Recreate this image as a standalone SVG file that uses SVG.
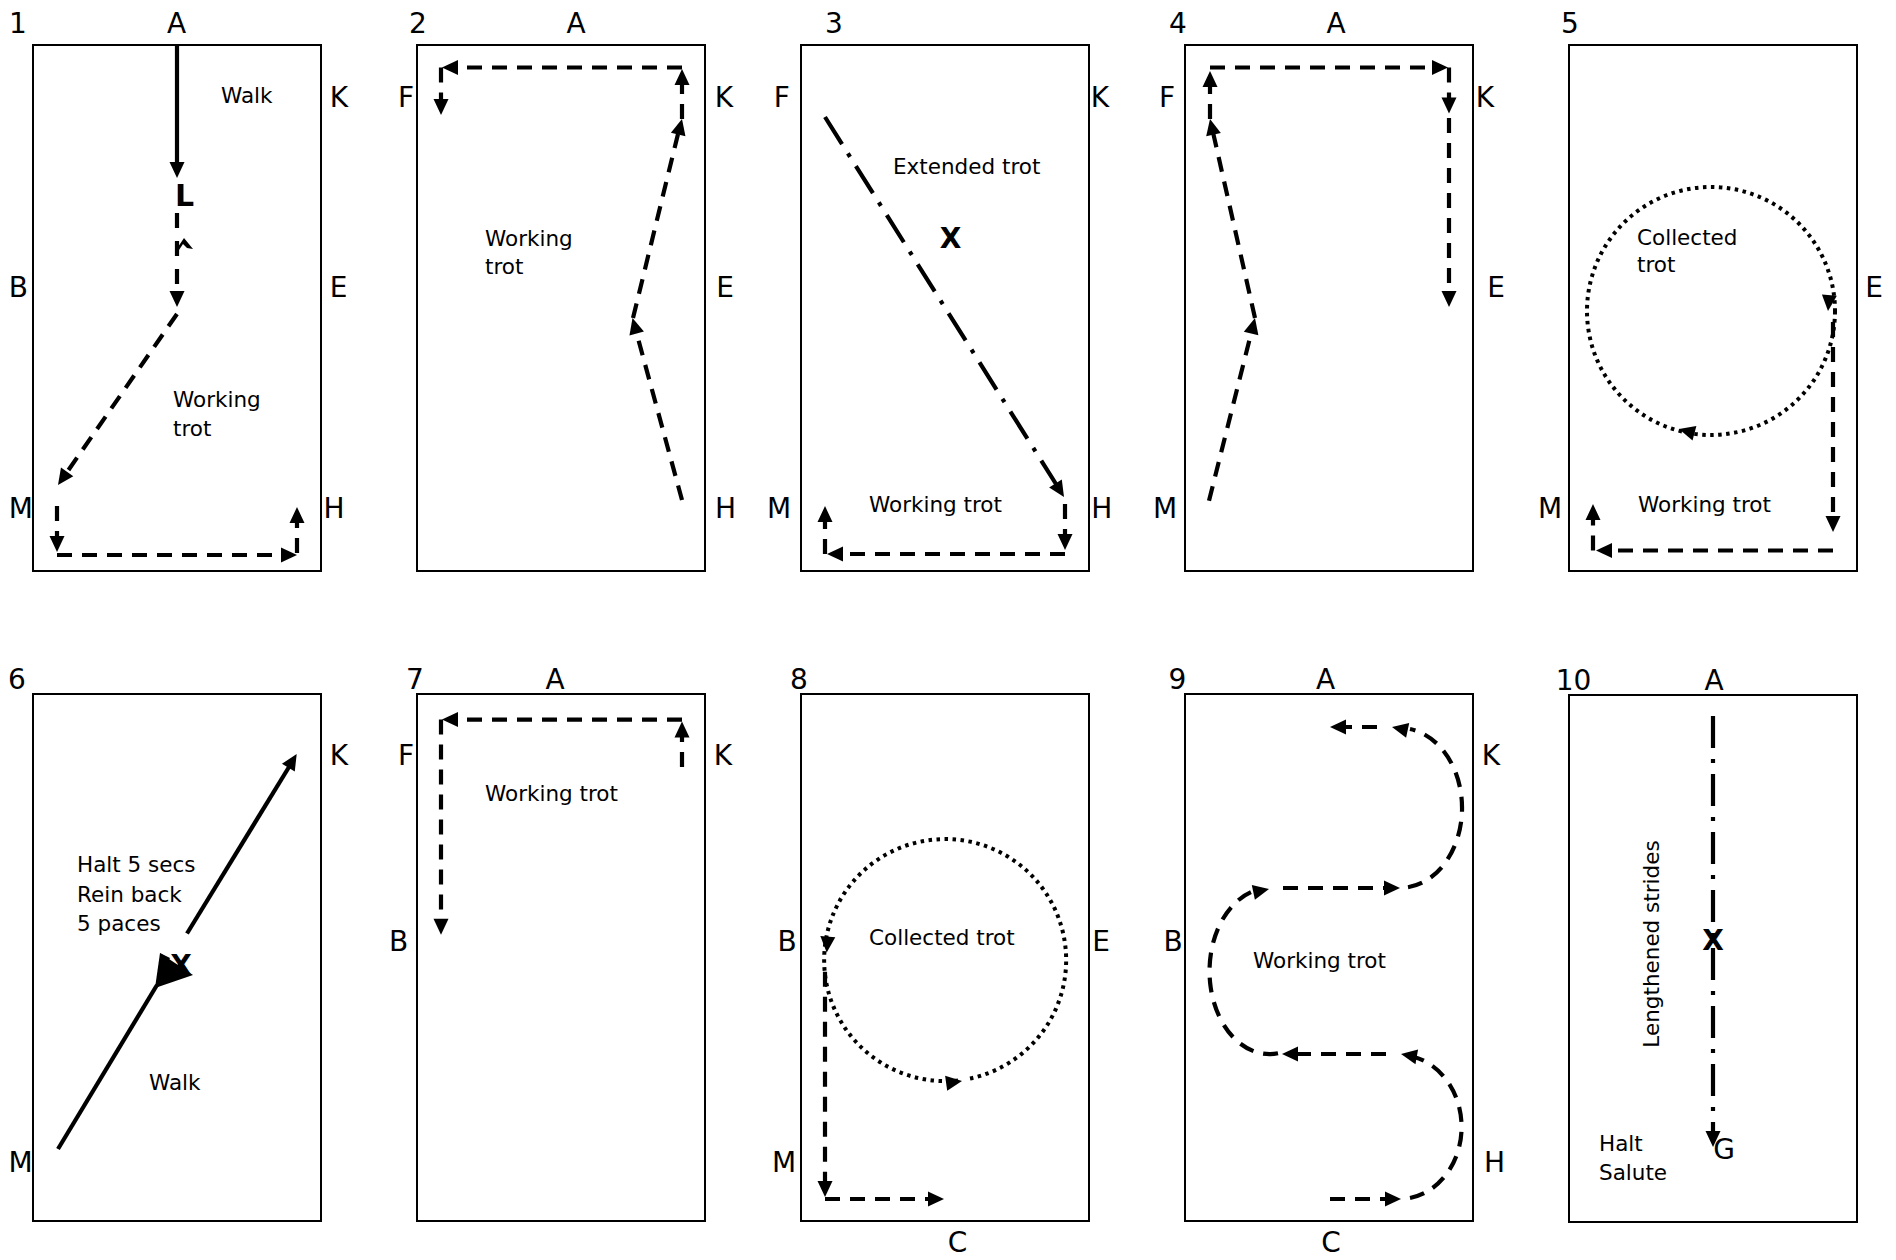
<svg xmlns="http://www.w3.org/2000/svg" xmlns:xlink="http://www.w3.org/1999/xlink" width="1896" height="1260" viewBox="0 0 1896 1260">
<style>
.arena{fill:none;stroke:#000;stroke-width:2}
.lbl{font-family:"DejaVu Sans",Verdana,sans-serif;font-size:28px;fill:#000;text-anchor:middle}
.txt{font-family:"DejaVu Sans",Verdana,sans-serif;font-size:21.5px;fill:#000}
.bold{font-family:"DejaVu Sans",Verdana,sans-serif;font-size:28px;font-weight:bold;fill:#000}
.dash{fill:none;stroke:#000;stroke-width:4.2;stroke-dasharray:15 10}
.dot{fill:none;stroke:#000;stroke-width:4;stroke-dasharray:3.5 4.5}
.dd{fill:none;stroke:#000;stroke-width:4.2;stroke-dasharray:32 11 4 11}
.solid{fill:none;stroke:#000;stroke-width:4.2}
</style>
<defs>
<path id="ah" d="M0,0 L-16,-7.5 L-16,7.5 Z" fill="#000"/>
</defs>
<rect width="1896" height="1260" fill="#fff"/>

<g id="panel1">
<rect class="arena" x="33" y="45" width="288" height="526"/>
<text class="lbl" x="17.8" y="33">1</text><text class="lbl" x="176.5" y="33">A</text>
<text class="lbl" x="339" y="107">K</text><text class="lbl" x="18.3" y="297">B</text><text class="lbl" x="338.5" y="297">E</text>
<text class="lbl" x="20.8" y="518">M</text><text class="lbl" x="334" y="518">H</text>
<text class="txt" x="221" y="102.6">Walk</text>
<text class="txt" x="173" y="407">Working</text><text class="txt" x="173" y="436">trot</text>
<text class="bold" x="175" y="206" style="font-size:30px">L</text>
</g>
<g id="panel2">
<rect class="arena" x="417" y="45" width="288" height="526"/>
<text class="lbl" x="418" y="33">2</text><text class="lbl" x="576" y="33">A</text>
<text class="lbl" x="406" y="107">F</text><text class="lbl" x="724" y="107">K</text>
<text class="lbl" x="725" y="297">E</text><text class="lbl" x="725.5" y="518">H</text>
<text class="txt" x="485" y="246">Working</text><text class="txt" x="485" y="274">trot</text>
</g>
<g id="panel3">
<rect class="arena" x="801" y="45" width="288" height="526"/>
<text class="lbl" x="834" y="33">3</text>
<text class="lbl" x="781.7" y="107">F</text><text class="lbl" x="1100" y="107">K</text>
<text class="lbl" x="779" y="518">M</text><text class="lbl" x="1101.7" y="518">H</text>
<text class="txt" x="893" y="174">Extended trot</text>
<text class="bold" x="950.5" y="248" text-anchor="middle">X</text>
<text class="txt" x="869" y="512">Working trot</text>
</g>
<g id="panel4">
<rect class="arena" x="1185" y="45" width="288" height="526"/>
<text class="lbl" x="1178" y="33">4</text><text class="lbl" x="1336" y="33">A</text>
<text class="lbl" x="1167" y="107">F</text><text class="lbl" x="1485" y="107">K</text>
<text class="lbl" x="1496" y="297">E</text><text class="lbl" x="1165" y="518">M</text>
</g>
<g id="panel5">
<rect class="arena" x="1569" y="45" width="288" height="526"/>
<text class="lbl" x="1570" y="33">5</text>
<text class="lbl" x="1874" y="297">E</text><text class="lbl" x="1550" y="518">M</text>
<text class="txt" x="1637" y="244.5">Collected</text><text class="txt" x="1637" y="272">trot</text>
<text class="txt" x="1638" y="512">Working trot</text>
</g>
<g id="panel6">
<rect class="arena" x="33" y="694" width="288" height="527"/>
<text class="lbl" x="17" y="689">6</text><text class="lbl" x="339" y="765">K</text><text class="lbl" x="20.5" y="1172">M</text>
<text class="txt" x="77" y="872">Halt 5 secs</text><text class="txt" x="77" y="902">Rein back</text><text class="txt" x="77" y="931">5 paces</text>
<text class="txt" x="149" y="1090">Walk</text>
<text class="bold" x="181" y="975" text-anchor="middle">X</text>
</g>
<g id="panel7">
<rect class="arena" x="417" y="694" width="288" height="527"/>
<text class="lbl" x="415" y="689">7</text><text class="lbl" x="555" y="689">A</text>
<text class="lbl" x="406" y="765">F</text><text class="lbl" x="723" y="765">K</text><text class="lbl" x="398.7" y="951">B</text>
<text class="txt" x="485" y="801">Working trot</text>
</g>
<g id="panel8">
<rect class="arena" x="801" y="694" width="288" height="527"/>
<text class="lbl" x="799" y="689">8</text>
<text class="lbl" x="787" y="951">B</text><text class="lbl" x="1101" y="951">E</text>
<text class="lbl" x="784" y="1172">M</text><text class="lbl" x="957.5" y="1252">C</text>
<text class="txt" x="869" y="945">Collected trot</text>
</g>
<g id="panel9">
<rect class="arena" x="1185" y="694" width="288" height="527"/>
<text class="lbl" x="1177.5" y="689">9</text><text class="lbl" x="1325.5" y="689">A</text>
<text class="lbl" x="1491" y="765">K</text><text class="lbl" x="1173" y="951">B</text>
<text class="lbl" x="1494.5" y="1172">H</text><text class="lbl" x="1331" y="1252">C</text>
<text class="txt" x="1253" y="968">Working trot</text>
</g>
<g id="panel10">
<rect class="arena" x="1569" y="695" width="288" height="527"/>
<text class="lbl" x="1573.5" y="690">10</text><text class="lbl" x="1714" y="690">A</text>
<text class="txt" transform="translate(1659,944) rotate(-90)" text-anchor="middle">Lengthened strides</text>
<text class="txt" x="1599" y="1151">Halt</text><text class="txt" x="1599" y="1180">Salute</text>
</g>

<g id="connectors">
<!-- panel 1 -->
<line class="solid" x1="177" y1="45" x2="177" y2="164"/>
<use xlink:href="#ah" transform="translate(177,178) rotate(90)"/>
<line class="dash" x1="177" y1="213" x2="177" y2="292" style="stroke-dasharray:15 13"/>
<polygon points="176,250 184,238 193,249 187,248 183,244 179,250" fill="#000"/>
<use xlink:href="#ah" transform="translate(177,307) rotate(90)"/>
<line class="dash" x1="177" y1="314" x2="66.6" y2="472.7"/>
<use xlink:href="#ah" transform="translate(58,485) rotate(124.8)"/>
<line class="dash" x1="57" y1="506" x2="57" y2="537"/>
<use xlink:href="#ah" transform="translate(57,552) rotate(90)"/>
<line class="dash" x1="57" y1="555" x2="282" y2="555"/>
<use xlink:href="#ah" transform="translate(297,555) rotate(0)"/>
<line class="dash" x1="297" y1="553" x2="297" y2="522"/>
<use xlink:href="#ah" transform="translate(297,507) rotate(-90)"/>
<!-- panel 2 -->
<line class="dash" x1="682" y1="67.5" x2="457" y2="67.5"/>
<use xlink:href="#ah" transform="translate(442,67.5) rotate(180)"/>
<line class="dash" x1="441" y1="67.5" x2="441" y2="100"/>
<use xlink:href="#ah" transform="translate(441,115) rotate(90)"/>
<line class="dash" x1="682" y1="119" x2="682" y2="84"/>
<use xlink:href="#ah" transform="translate(682,69) rotate(-90)"/>
<line class="dash" x1="633" y1="318" x2="678" y2="134"/>
<use xlink:href="#ah" transform="translate(682,119) rotate(-76.2)"/>
<line class="dash" x1="682" y1="500" x2="636.4" y2="332.5"/>
<use xlink:href="#ah" transform="translate(632.5,318) rotate(-105.2)"/>
<!-- panel 3 -->
<line class="dd" x1="825" y1="117" x2="1056" y2="484"/>
<use xlink:href="#ah" transform="translate(1064,497) rotate(57.8)"/>
<line class="dash" x1="1065" y1="504" x2="1065" y2="535"/>
<use xlink:href="#ah" transform="translate(1065,550) rotate(90)"/>
<line class="dash" x1="1065" y1="554" x2="842" y2="554"/>
<use xlink:href="#ah" transform="translate(827,554) rotate(180)"/>
<line class="dash" x1="825" y1="554" x2="825" y2="521"/>
<use xlink:href="#ah" transform="translate(825,506) rotate(-90)"/>
<!-- panel 4 -->
<line class="dash" x1="1209" y1="500.7" x2="1251.3" y2="332.5"/>
<use xlink:href="#ah" transform="translate(1255,318) rotate(-75.9)"/>
<line class="dash" x1="1255" y1="318" x2="1213.3" y2="133.6"/>
<use xlink:href="#ah" transform="translate(1210,119) rotate(-102.7)"/>
<line class="dash" x1="1210" y1="119" x2="1210" y2="86"/>
<use xlink:href="#ah" transform="translate(1210,71) rotate(-90)"/>
<line class="dash" x1="1210" y1="67.5" x2="1433" y2="67.5"/>
<use xlink:href="#ah" transform="translate(1448,67.5) rotate(0)"/>
<line class="dash" x1="1449" y1="67.5" x2="1449" y2="98.6"/>
<use xlink:href="#ah" transform="translate(1449,113.6) rotate(90)"/>
<line class="dash" x1="1449" y1="118" x2="1449" y2="292"/>
<use xlink:href="#ah" transform="translate(1449,307) rotate(90)"/>
<!-- panel 5 -->
<circle class="dot" cx="1711" cy="311" r="124"/>
<use xlink:href="#ah" transform="translate(1828,311) rotate(95)"/>
<use xlink:href="#ah" transform="translate(1679,429) rotate(195)"/>
<line class="dash" x1="1833" y1="322" x2="1833" y2="517"/>
<use xlink:href="#ah" transform="translate(1833,532) rotate(90)"/>
<line class="dash" x1="1833" y1="550.5" x2="1611" y2="550.5"/>
<use xlink:href="#ah" transform="translate(1596,550.5) rotate(180)"/>
<line class="dash" x1="1593" y1="550.5" x2="1593" y2="519"/>
<use xlink:href="#ah" transform="translate(1593,504) rotate(-90)"/>
<!-- panel 6 -->
<line class="solid" x1="58" y1="1149" x2="157" y2="985"/>
<polygon points="155,988 160,953 193,975" fill="#000"/>
<polygon points="160,953 170,958 166,966" fill="#000"/>
<line class="solid" x1="187" y1="933.5" x2="289" y2="767"/>
<use xlink:href="#ah" transform="translate(296.7,754) rotate(-58.6)"/>
<!-- panel 7 -->
<line class="dash" x1="682" y1="719.6" x2="457" y2="719.6"/>
<use xlink:href="#ah" transform="translate(442,719.6) rotate(180)"/>
<line class="dash" x1="682" y1="767" x2="682" y2="736.5"/>
<use xlink:href="#ah" transform="translate(682,721.5) rotate(-90)"/>
<line class="dash" x1="441" y1="719.6" x2="441" y2="919.7"/>
<use xlink:href="#ah" transform="translate(441,934.7) rotate(90)"/>
<!-- panel 8 -->
<path class="dot" d="M970,1078.5 A121,121 0 1 0 962,1079.9"/>
<use xlink:href="#ah" transform="translate(826.7,952.6) rotate(94)"/>
<use xlink:href="#ah" transform="translate(962,1081) rotate(-8)"/>
<line class="dash" x1="825" y1="971.7" x2="825" y2="1182"/>
<use xlink:href="#ah" transform="translate(825,1197) rotate(90)"/>
<line class="dash" x1="825" y1="1199" x2="929" y2="1199"/>
<use xlink:href="#ah" transform="translate(944,1199) rotate(0)"/>
<!-- panel 9 -->
<line class="dash" x1="1330" y1="1199" x2="1386" y2="1199"/>
<use xlink:href="#ah" transform="translate(1401,1199) rotate(0)"/>
<path class="dash" d="M1410,1198 A62,72 0 0 0 1414,1057"/>
<use xlink:href="#ah" transform="translate(1401,1054) rotate(190)"/>
<line class="dash" x1="1386" y1="1054" x2="1297" y2="1054"/>
<use xlink:href="#ah" transform="translate(1282,1054) rotate(180)"/>
<path class="dash" d="M1278,1053.3 A60,83 0 0 1 1255,890.6"/>
<use xlink:href="#ah" transform="translate(1269,889) rotate(-12)"/>
<line class="dash" x1="1283" y1="888" x2="1385" y2="888"/>
<use xlink:href="#ah" transform="translate(1400,888) rotate(0)"/>
<path class="dash" d="M1408,887.3 A62,80 0 0 0 1410,729"/>
<use xlink:href="#ah" transform="translate(1392,727) rotate(192)"/>
<line class="dash" x1="1377" y1="727" x2="1345" y2="727"/>
<use xlink:href="#ah" transform="translate(1330,727) rotate(180)"/>
<!-- panel 10 -->
<line class="dd" x1="1713" y1="716" x2="1713" y2="1132"/>
<use xlink:href="#ah" transform="translate(1713,1147) rotate(90)"/>
</g>
<g id="overlay-labels">
<text class="bold" x="1713" y="950" text-anchor="middle">X</text>
<text class="lbl" x="1724" y="1159">G</text>
</g>
</svg>
